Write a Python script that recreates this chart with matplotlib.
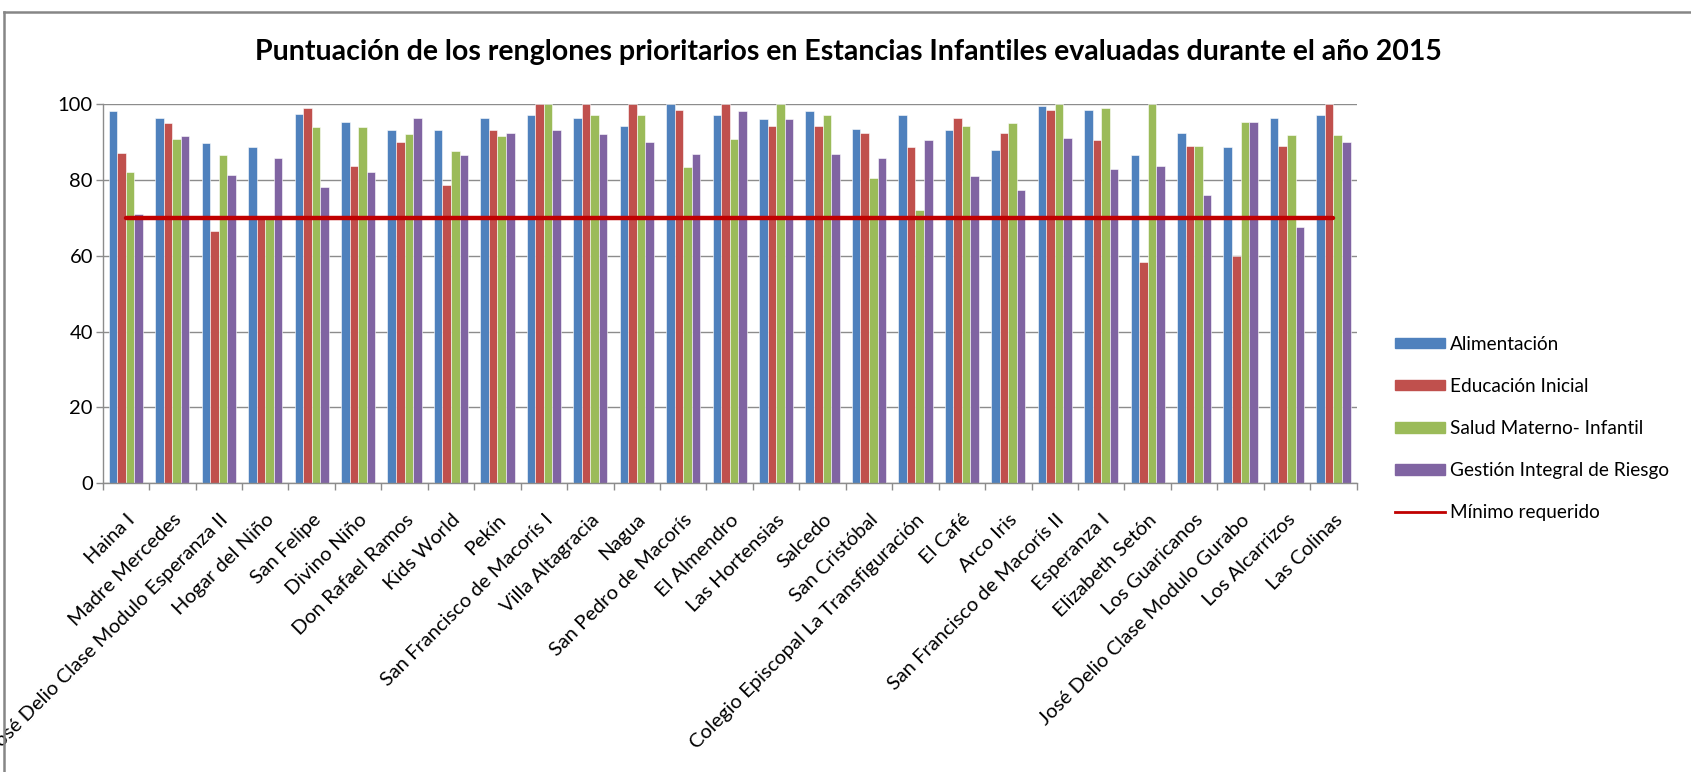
import matplotlib
matplotlib.use("Agg")
import matplotlib.pyplot as plt
from matplotlib.lines import Line2D
import numpy as np

categories = ["Haina I", "Madre Mercedes", "José Delio Clase Modulo Esperanza II",
              "Hogar del Niño", "San Felipe", "Divino Niño", "Don Rafael Ramos",
              "Kids World", "Pekín", "San Francisco de Macorís I", "Villa Altagracia",
              "Nagua", "San Pedro de Macorís", "El Almendro", "Las Hortensias",
              "Salcedo", "San Cristóbal", "Colegio Episcopal La Transfiguración",
              "El Café", "Arco Iris", "San Francisco de Macorís II", "Esperanza I",
              "Elizabeth Setón", "Los Guaricanos", "José Delio Clase Modulo Gurabo",
              "Los Alcarrizos", "Las Colinas"]

alimentacion = [98.1, 96.4, 89.7, 88.8, 97.4, 95.4, 93.1, 93.1, 96.4, 97.1, 96.4,
                94.4, 100, 97.1, 96.0, 98.1, 93.4, 97.1, 93.1, 88.0, 99.5, 98.4,
                86.5, 92.3, 88.7, 96.4, 97.1]
educacion = [87.2, 95.0, 66.5, 70.0, 99.1, 83.8, 90.0, 78.7, 93.1, 100, 100,
             100, 98.4, 100, 94.4, 94.4, 92.3, 88.7, 96.4, 92.3, 98.4, 90.7,
             58.4, 88.9, 60.1, 88.9, 100]
salud = [82.1, 90.9, 86.5, 70.0, 94.0, 94.0, 92.1, 87.6, 91.6, 100, 97.1,
         97.1, 83.5, 90.9, 100, 97.1, 80.5, 72.0, 94.4, 95.1, 100, 99.1,
         100, 88.9, 95.4, 92.0, 92.0]
gestion = [71.0, 91.6, 81.4, 85.9, 78.1, 82.1, 96.4, 86.5, 92.3, 93.1, 92.1,
           90.0, 86.9, 98.1, 96.0, 86.9, 85.9, 90.7, 81.2, 77.5, 91.0, 82.8,
           83.8, 76.0, 95.4, 67.6, 90.0]
minimo = [70] * len(categories)

series_names = ["Alimentación", "Educación Inicial", "Salud Materno- Infantil",
                "Gestión Integral de Riesgo"]
series_colors = ["#4F81BD", "#C0504D", "#9BBB59", "#8064A2"]
line_name = "Mínimo requerido"
yticks = [0, 20, 40, 60, 80, 100]

FONT = "Lato"
plt.rcParams["font.family"] = [FONT, "DejaVu Sans"]

fig = plt.figure(figsize=(16.91, 7.72), dpi=100)
ax = fig.add_axes([0.0607, 0.374, 0.7416, 0.4909])

n = len(categories)
x = np.arange(n)
bw = 0.184
series = [alimentacion, educacion, salud, gestion]
for i, (vals, col, name) in enumerate(zip(series, series_colors, series_names)):
    ax.bar(x + (i - 1.5) * bw, vals, width=bw, color=col, edgecolor="white",
           linewidth=0.4, label=name, zorder=2)

ax.plot(x, minimo, color="#C00000", linewidth=3.2, solid_capstyle="round",
        zorder=3, label=line_name)

ax.set_xlim(-0.5, n - 0.5)
ax.set_ylim(0, 100)
ax.set_yticks(yticks)
ax.yaxis.grid(True, color="#8C8C8C", linewidth=1.0, zorder=0)
ax.set_axisbelow(True)

for s in ["top", "right"]:
    ax.spines[s].set_visible(False)
for s in ["left", "bottom"]:
    ax.spines[s].set_color("#8C8C8C")
    ax.spines[s].set_linewidth(1.0)

ax.tick_params(axis="y", labelsize=14.5, length=5, width=1, color="#8C8C8C",
               pad=2, labelcolor="#000000")
ax.set_xticks(x)
ax.set_xticklabels(categories, rotation=45, ha="right", rotation_mode="anchor",
                   fontsize=14.5)
ax.tick_params(axis="x", which="major", length=0, pad=20)
ax.set_xticks(np.arange(-0.5, n, 1.0), minor=True)
ax.tick_params(axis="x", which="minor", length=5, width=1, color="#8C8C8C")

fig.text(0.502, 0.933, "Puntuación de los renglones prioritarios en Estancias Infantiles evaluadas durante el año 2015",
         ha="center", va="center", fontsize=20.5, fontweight="bold")

handles = [plt.Rectangle((0, 0), 1, 1, color=c) for c in series_colors]
handles.append(Line2D([0], [0], color="#C00000", linewidth=2))
leg = fig.legend(handles, series_names + [line_name],
                 loc="upper left", bbox_to_anchor=(0.8205, 0.575),
                 frameon=False, fontsize=13.7, handlelength=2.6, handleheight=0.5,
                 handletextpad=0.3, labelspacing=1.32, borderaxespad=0)

# outer chart border (top and left visible)
fig.add_artist(Line2D([0.0024, 1.0], [1 - 12 / 772, 1 - 12 / 772],
                      transform=fig.transFigure, color="#868686", linewidth=1.8))
fig.add_artist(Line2D([0.0024, 0.0024], [0.0, 1 - 12 / 772],
                      transform=fig.transFigure, color="#868686", linewidth=1.8))

fig.savefig("out.png", dpi=100)
